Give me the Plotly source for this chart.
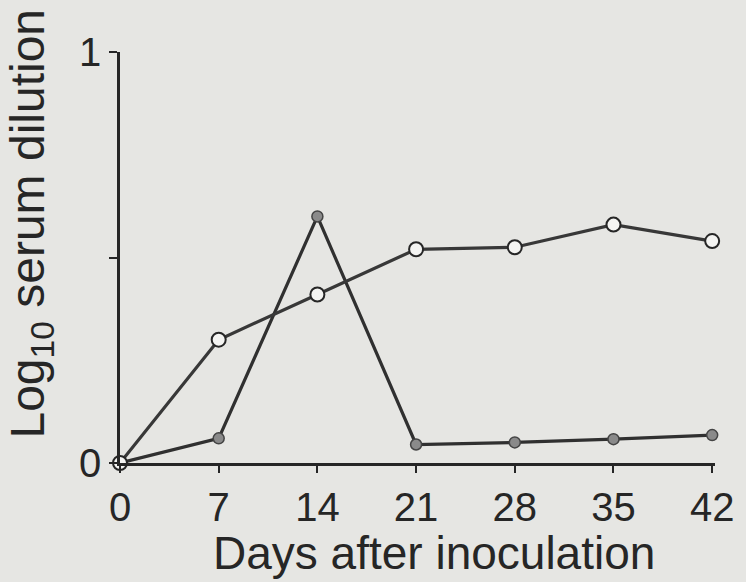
import plotly.graph_objects as go

days = [0, 7, 14, 21, 28, 35, 42]
open_series = [0.0, 0.30, 0.41, 0.52, 0.525, 0.58, 0.54]
filled_series = [0.0, 0.06, 0.60, 0.045, 0.05, 0.058, 0.068]
x_ticks = [0, 7, 14, 21, 28, 35, 42]
y_ticks = [0, 1]
y_minor_ticks = [0.5]
x_title = "Days after inoculation"
y_title = "Log<sub>10</sub> serum dilution"

bg = "#e6e6e3"
ink = "#262626"
font_family = "Liberation Sans, Arial, sans-serif"

fig = go.Figure()
fig.add_trace(go.Scatter(
    x=days, y=filled_series, mode="lines+markers",
    line=dict(color="#303030", width=3.2),
    marker=dict(symbol="circle", size=11, color="#8a8a8a",
                line=dict(color="#444444", width=1.5)),
    cliponaxis=False, showlegend=False,
))
fig.add_trace(go.Scatter(
    x=days, y=open_series, mode="lines+markers",
    line=dict(color="#383838", width=3.2),
    marker=dict(symbol="circle", size=14, color="#f4f4f2",
                line=dict(color="#262626", width=2)),
    cliponaxis=False, showlegend=False,
))

fig.update_layout(
    width=746, height=582,
    margin=dict(l=120, r=26, t=52, b=119),
    paper_bgcolor=bg, plot_bgcolor=bg,
    font=dict(family=font_family, color=ink, size=40),
    xaxis=dict(
        range=[0, 42.2], tickvals=x_ticks, ticktext=[str(t) for t in x_ticks],
        showgrid=False, zeroline=False, showline=True, linecolor=ink, linewidth=2.5,
        ticks="outside", ticklen=7, tickwidth=2, tickcolor=ink,
        tickfont=dict(size=40, color=ink),
    ),
    yaxis=dict(
        range=[0, 1], tickvals=y_ticks, ticktext=[str(t) for t in y_ticks],
        showgrid=False, zeroline=False, showline=True, linecolor=ink, linewidth=2.5,
        ticks="outside", ticklen=8, tickwidth=2, tickcolor=ink,
        minor=dict(tickvals=y_minor_ticks, ticks="outside", ticklen=8, tickwidth=2,
                   tickcolor=ink, showgrid=False),
        tickfont=dict(size=40, color=ink),
    ),
    annotations=[
        dict(text=x_title, xref="paper", yref="paper", x=0.528, y=-0.219,
             xanchor="center", yanchor="middle", showarrow=False,
             font=dict(size=46, color=ink)),
        dict(text=y_title, xref="paper", yref="paper", x=-0.15, y=0.582,
             xanchor="center", yanchor="middle", textangle=-90, showarrow=False,
             font=dict(size=48, color=ink)),
    ],
)

fig.write_html("out.html")
